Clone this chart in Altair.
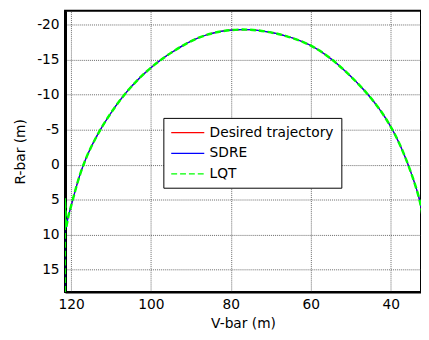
import altair as alt
import pandas as pd

series_names = ["Desired trajectory", "SDRE", "LQT"]
series_colors = ["#ff0000", "#0000ff", "#00ff00"]
series_widths = [1.2, 1.2, 2.5]

# main arc (V-bar, R-bar)
arc_v = [119.6, 117.2, 112.9, 107.0, 100.0, 90.6, 84.9, 80.0, 75.4, 71.3, 66.4, 60.0, 54.0, 45.0, 39.2, 35.5, 32.6, 32.0]
arc_r = [5.1, 0.0, -5.0, -10.0, -14.15, -17.66, -18.83, -19.3, -19.34, -19.06, -18.5, -17.2, -14.9, -9.9, -5.0, 0.0, 5.0, 7.5]

# start of the desired trajectory
des_start_v = [121.1, 119.6]
des_start_r = [8.2, 5.1]

# initial manoeuvre of the controlled trajectories
ctl_start_v = [121.55, 121.55, 121.2, 120.6, 119.6]
ctl_start_r = [18.2, 4.8, 9.0, 7.2, 5.1]

x_ticks = [40, 60, 80, 100, 120]
y_ticks = [-20, -15, -10, -5, 0, 5, 10, 15]

arc_rows, start_rows = [], []
for s in series_names:
    for v, r in zip(arc_v, arc_r):
        arc_rows.append({"series": s, "V": v, "R": r})
    sv, sr = (des_start_v, des_start_r) if s == series_names[0] else (ctl_start_v, ctl_start_r)
    for i, (v, r) in enumerate(zip(sv, sr)):
        start_rows.append({"series": s, "V": v, "R": r, "o": i})
arc_df = pd.DataFrame(arc_rows)
start_df = pd.DataFrame(start_rows)

FONT = "DejaVu Sans"

xs = alt.Scale(domain=[32.4, 121.5], reverse=True, nice=False, zero=False)
ys = alt.Scale(domain=[-22.0, 18.2], reverse=True, nice=False, zero=False)

color = alt.Color("series:N", scale=alt.Scale(domain=series_names, range=series_colors),
                  sort=series_names, title=None,
                  legend=alt.Legend(orient="none", legendX=100, legendY=109,
                                    fillColor="white", strokeColor="black", padding=7,
                                    symbolType="M-1,0H3.8", symbolSize=196, symbolStrokeWidth=1.3,
                                    labelFont=FONT, labelFontSize=14, labelColor="black",
                                    rowPadding=6, labelOffset=24, cornerRadius=0))
dash = alt.StrokeDash("series:N", scale=alt.Scale(domain=series_names, range=[[10, 0], [10, 0], [6, 3]]),
                      sort=series_names, title=None)

x_enc = alt.X("V:Q", scale=xs,
              axis=alt.Axis(title="V-bar (m)", values=x_ticks, grid=True, ticks=False,
                            labelPadding=6, titlePadding=5))
y_enc = alt.Y("R:Q", scale=ys,
              axis=alt.Axis(title="R-bar (m)", values=y_ticks, grid=True, ticks=False,
                            labelExpr="'' + datum.value", labelPadding=6, titlePadding=9))

layers = []
for s, w in zip(series_names, series_widths):
    arc = alt.Chart(arc_df[arc_df.series == s]).mark_line(
        clip=True, interpolate="basis", strokeWidth=w).encode(
        x=x_enc, y=y_enc, color=color, strokeDash=dash)
    st = alt.Chart(start_df[start_df.series == s]).mark_line(clip=True, strokeWidth=w).encode(
        x=x_enc, y=y_enc, color=color, strokeDash=dash, order=alt.Order("o:Q"))
    layers += [arc, st]

chart = alt.layer(*layers).properties(
    width=362, height=286,
    autosize=alt.AutoSizeParams(type="none"),
    padding={"left": 58, "top": 0, "right": 0, "bottom": 40},
).configure_view(stroke="black", strokeWidth=2).configure_axis(
    labelFont=FONT, titleFont=FONT, labelFontSize=14, titleFontSize=14,
    labelColor="black", titleColor="black", titleFontWeight="normal",
    domainColor="black", gridColor="#444", gridDash=[1, 1], gridOpacity=0.8,
).configure_axisY(domainWidth=3).configure_axisX(domainWidth=2)

chart.save("out.html", embed_options={"renderer": "svg", "actions": False})
